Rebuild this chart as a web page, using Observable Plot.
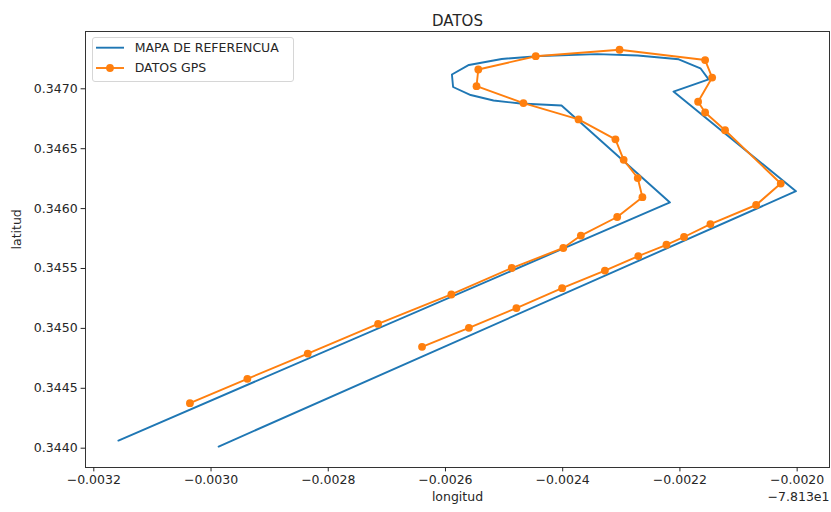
<!DOCTYPE html>
<html><head><meta charset="utf-8">
<script src="https://cdn.jsdelivr.net/npm/d3@7"></script>
<script src="https://cdn.jsdelivr.net/npm/@observablehq/plot@0.6"></script>
<style>
body{margin:0;background:#fff;font-family:"DejaVu Sans",sans-serif;}
#wrap{position:relative;width:831px;height:512px;}
#legend{position:absolute;left:92px;top:37px;}
</style></head><body><div id="wrap"></div>
<script>
const LON_OFFSET = -78.13;
const title = "DATOS";
const xLabel = "longitud";
const yLabel = "latitud";
const seriesNames = ["MAPA DE REFERENCUA", "DATOS GPS"];
const seriesColors = ["#1f77b4", "#ff7f0e"];

// MAPA DE REFERENCUA
const refLon = [-78.133158, -78.132217, -78.132402, -78.132472, -78.132518, -78.132557, -78.132587, -78.132589, -78.132560, -78.132504, -78.132438, -78.132341, -78.132272, -78.132202, -78.132165, -78.132151, -78.132211, -78.132002, -78.132987];
const refLat = [0.344064, 0.346051, 0.346861, 0.346877, 0.346902, 0.346948, 0.347015, 0.347119, 0.347199, 0.347249, 0.347274, 0.347289, 0.347278, 0.347246, 0.347171, 0.347079, 0.346977, 0.346145, 0.344014];

// DATOS GPS
const gpsLon = [-78.133036, -78.132938, -78.132835, -78.132715, -78.132590, -78.132487, -78.132399, -78.132369, -78.132307, -78.132264, -78.132272, -78.132296, -78.132310, -78.132373, -78.132467, -78.132547, -78.132544, -78.132446, -78.132303, -78.132157, -78.132145, -78.132169, -78.132157, -78.132123, -78.132028, -78.132070, -78.132148, -78.132193, -78.132223, -78.132271, -78.132328, -78.132401, -78.132479, -78.132560, -78.132640];
const gpsLat = [0.344376, 0.344579, 0.344790, 0.345037, 0.345283, 0.345504, 0.345671, 0.345775, 0.345930, 0.346095, 0.346255, 0.346407, 0.346578, 0.346744, 0.346881, 0.347022, 0.347161, 0.347272, 0.347326, 0.347240, 0.347094, 0.346892, 0.346802, 0.346654, 0.346209, 0.346030, 0.345871, 0.345763, 0.345698, 0.345604, 0.345483, 0.345336, 0.345170, 0.345005, 0.344846];

const xTickOffsets = [-0.0032, -0.0030, -0.0028, -0.0026, -0.0024, -0.0022, -0.0020];
const yTicks = [0.3440, 0.3445, 0.3450, 0.3455, 0.3460, 0.3465, 0.3470];
const offsetText = "\u22127.813e1";

const ref = refLon.map((x, i) => ({x, y: refLat[i]}));
const gps = gpsLon.map((x, i) => ({x, y: gpsLat[i]}));
const minus = s => s.replace("-", "\u2212");

const plot = Plot.plot({
  width: 831, height: 512,
  marginLeft: 85, marginRight: 2, marginTop: 31, marginBottom: 45,
  style: {fontFamily: "DejaVu Sans, sans-serif", fontSize: "12.5px", color: "#262626", background: "#fff"},
  x: {domain: [LON_OFFSET - 0.00321416, LON_OFFSET - 0.0019448]},
  y: {domain: [0.3438389, 0.3474782]},
  marks: [
    Plot.line(ref, {x: "x", y: "y", stroke: seriesColors[0], strokeWidth: 1.9}),
    Plot.line(gps, {x: "x", y: "y", stroke: seriesColors[1], strokeWidth: 1.9}),
    Plot.dot(gps, {x: "x", y: "y", r: 3.9, fill: seriesColors[1], stroke: "none"}),
    Plot.frame({stroke: "#333", strokeWidth: 1}),
    Plot.axisX({ticks: xTickOffsets.map(o => LON_OFFSET + o), tickFormat: d => minus((d - LON_OFFSET).toFixed(4)), tickSize: 4.4, tickPadding: 3.5, label: null}),
    Plot.axisY({ticks: yTicks, tickFormat: d => d.toFixed(4), tickSize: 4.4, tickPadding: 3.5, label: null}),
    Plot.text([title], {frameAnchor: "top", dy: -16, fontSize: 15, text: d => d}),
    Plot.text([xLabel], {frameAnchor: "bottom", dy: 33, text: d => d}),
    Plot.text([offsetText], {frameAnchor: "bottom-right", dy: 33, textAnchor: "end", text: d => d}),
    Plot.text([yLabel], {frameAnchor: "left", dx: -69, rotate: -90, text: d => d})
  ]
});
document.getElementById("wrap").appendChild(plot);

// legend
const lg = d3.select("#wrap").append("svg").attr("id", "legend")
  .attr("width", 202).attr("height", 45)
  .style("font-family", "DejaVu Sans, sans-serif").style("font-size", "12.5px");
lg.append("rect").attr("x", 0.5).attr("y", 0.5).attr("width", 201).attr("height", 44)
  .attr("rx", 2.5).attr("fill", "rgba(255,255,255,0.8)").attr("stroke", "#d6d6d6");
seriesNames.forEach((name, i) => {
  const cy = 10.7 + i * 20.3;
  lg.append("line").attr("x1", 4).attr("x2", 32).attr("y1", cy).attr("y2", cy)
    .attr("stroke", seriesColors[i]).attr("stroke-width", 1.9);
  if (i === 1) lg.append("circle").attr("cx", 18).attr("cy", cy).attr("r", 3.9).attr("fill", seriesColors[i]);
  lg.append("text").attr("x", 42.7).attr("y", cy).attr("dy", "0.35em").attr("fill", "#262626").text(name);
});
</script></body></html>
